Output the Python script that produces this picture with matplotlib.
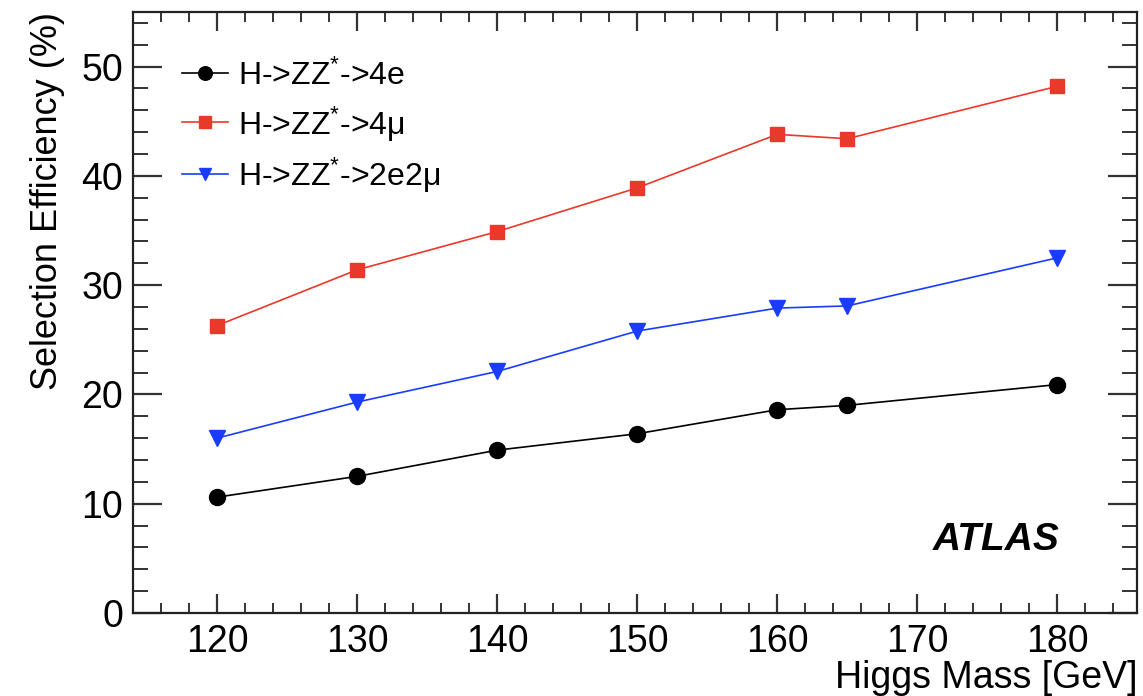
import matplotlib
matplotlib.use("Agg")
import matplotlib.pyplot as plt
from matplotlib.ticker import MultipleLocator

plt.rcParams["font.family"] = ["Liberation Sans", "DejaVu Sans"]
plt.rcParams["mathtext.fontset"] = "custom"
plt.rcParams["mathtext.rm"] = "Liberation Sans"

# Higgs mass points [GeV] and selection efficiencies [%]
mass = [120, 130, 140, 150, 160, 165, 180]
eff_4e = [10.6, 12.5, 14.9, 16.4, 18.6, 19.0, 20.9]
eff_4mu = [26.3, 31.4, 34.9, 38.9, 43.8, 43.4, 48.2]
eff_2e2mu = [16.0, 19.3, 22.1, 25.8, 27.9, 28.1, 32.5]

labels = ["H->ZZ$^{*}$->4e", "H->ZZ$^{*}$->4μ", "H->ZZ$^{*}$->2e2μ"]

fig = plt.figure(figsize=(11.43, 6.96), dpi=100)
ax = fig.add_axes([0.1164, 0.1193, 0.8784, 0.8635])

ax.plot(mass, eff_4e, color="black", lw=1.2, marker="o", ms=11.5, label=labels[0])
ax.plot(mass, eff_4mu, color="#e8392a", lw=1.2, marker="s", ms=10.5, label=labels[1])
ax.plot(mass, eff_2e2mu, color="#1a3cff", lw=1.2, marker="v", ms=11, label=labels[2])

ax.set_xlim(114, 185.7)
ax.set_ylim(0, 55)
ax.xaxis.set_major_locator(MultipleLocator(10))
ax.xaxis.set_minor_locator(MultipleLocator(2))
ax.yaxis.set_major_locator(MultipleLocator(10))
ax.yaxis.set_minor_locator(MultipleLocator(2))

ax.tick_params(which="both", direction="in", top=True, right=True, colors="#333333",
               labelcolor="black", labelsize=27)
ax.tick_params(axis="x", which="major", length=14, width=1.6, pad=8)
ax.tick_params(axis="x", which="minor", length=7, width=1.4)
ax.tick_params(axis="y", which="major", length=21, width=1.6, pad=7)
ax.tick_params(axis="y", which="minor", length=11, width=1.4)
for s in ax.spines.values():
    s.set_linewidth(1.6)
    s.set_color("#222222")

ax.set_xlabel("Higgs Mass [GeV]", fontsize=27, loc="right", labelpad=0)
ax.set_ylabel("Selection Efficiency (%)", fontsize=26, loc="top", labelpad=12)

ax.legend(loc="upper left", bbox_to_anchor=(0.02, 0.97), frameon=False, fontsize=23,
          handlelength=1.45, handletextpad=0.3, labelspacing=0.4, markerscale=0.85)

ax.text(0.923, 0.121, "ATLAS", transform=ax.transAxes, ha="right", va="center",
        fontsize=28, fontweight="bold", fontstyle="italic")

fig.savefig("out.png", dpi=100)
